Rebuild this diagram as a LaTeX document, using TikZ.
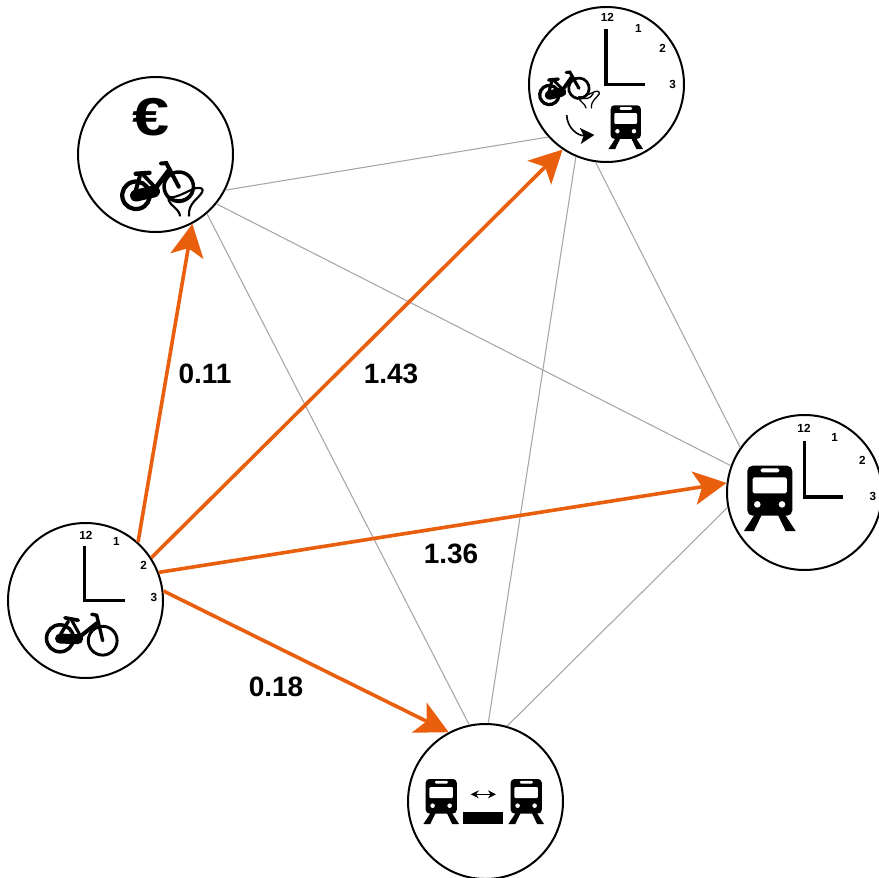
\documentclass[tikz,border=0pt]{standalone}
\usepackage{fontspec}
\setmainfont{Liberation Sans}
\usetikzlibrary{arrows.meta}
\definecolor{arrorange}{HTML}{EA5F0E}
\definecolor{linkgray}{HTML}{A6A6A6}
\tikzset{
  x=.75pt,y=-.75pt,
  stationcircle/.style={circle,draw=black,line width=1.5pt,minimum size=116.25pt,inner sep=0pt,fill=white},
  linkline/.style={draw=linkgray,line width=.8pt},
  chosen/.style={draw=arrorange,line width=2.7pt,-{Stealth[length=24.5pt,width=25pt,inset=6pt]}},
  oddslabel/.style={font=\bfseries\fontsize{21}{24}\selectfont,inner sep=0pt},
  hournum/.style={font=\bfseries\fontsize{8.8}{10}\selectfont,inner sep=0pt},
  hands/.style={draw=black,line width=2.4pt,miter limit=10},
}
\newcommand{\trainicon}[3]{%
  \begin{scope}[shift={(#1,#2)},scale=#3]
    \fill[black,rounded corners=4pt*#3] (0,0) rectangle (45,50);
    \fill[white,rounded corners=1.2pt*#3] (5.3,11.7) rectangle (39.5,27.7);
    \fill[white,rounded corners=1.2pt*#3] (13.3,2.7) rectangle (32,6.7);
    \fill[white] (10,38.7) circle (3.3);
    \fill[white] (34.7,38.7) circle (3.3);
    \fill[black] (8,48) -- (14.5,49) -- (6.5,65.5) -- (-3.5,65.5) -- cycle;
    \fill[black] (37,48) -- (30.5,49) -- (38.5,65.5) -- (48.5,65.5) -- cycle;
  \end{scope}}
% x, y, rotation, size, stroke weight
\newcommand{\bikeicon}[5]{%
  \begin{scope}[shift={(#1,#2)},rotate=#3,scale=#4,line cap=round]
    \draw[line width=2.3pt*#4*#5] (0,0) circle (13.5);
    \draw[line width=1.9pt*#4*#5] (42.7,2.4) circle (14.4);
    \draw[line width=2.2pt*#4*#5] (31.7,-24) -- (36.7,-23) -- (42.7,2.4);
    \draw[line width=2.4pt*#4*#5] (5,-20.5) -- (18.3,-18);
    \draw[line width=2pt*#4*#5] (11.7,-18) -- (21.7,0);
    \draw[line width=2.2pt*#4*#5] (8.3,-17) -- (0,-3);
    \draw[line width=2.6pt*#4*#5] (36.7,-15) -- (20,-1.7);
    \draw[line width=6.5pt*#4*#5] (0,.3) -- (18,.8);
  \end{scope}}
\newcommand{\handicon}[3]{%
  \begin{scope}[shift={(#1,#2)},scale=#3,line cap=round,line join=round]
    \draw[line width=1.6pt*#3] (0,0) .. controls (-1,-8) and (-12,-10) .. (-11.7,-18.7)
      .. controls (-4,-17) and (6,-24) .. (15,-27.4)
      .. controls (20,-28.5) and (24,-27.5) .. (22.3,-24)
      .. controls (19,-17) and (8,-13) .. (9,0);
    \draw[line width=1.6pt*#3] (-11.7,-18.7) .. controls (-3,-13) and (8,-15) .. (12,-24);
  \end{scope}}
\begin{document}
\begin{tikzpicture}
\useasboundingbox (0,0) rectangle (879,878);
\node[stationcircle] (A) at (155.5,154.5) {};
\node[stationcircle] (B) at (606.5,84.5) {};
\node[stationcircle] (C) at (804.5,492.5) {};
\node[stationcircle] (D) at (85.5,600.5) {};
\node[stationcircle] (E) at (485.5,801.5) {};
% grey links
\draw[linkline] (A.-27.4) -- (B.-138.6);
\draw[linkline] (A.-39.4) -- (C.160.4);
\draw[linkline] (A.-49.3) -- (E.102.9);
\draw[linkline] (B.-98.4) -- (C.145.4);
\draw[linkline] (B.-113.9) -- (E.88.9);
\draw[linkline] (C.-169) -- (E.74);
% orange arrows
\draw[chosen] (D.48.2) -- (A.-62.3);
\draw[chosen] (D.33) -- (B.-124.6);
\draw[chosen] (D.21.5) -- (C.173);
\draw[chosen] (D.7) -- (E.118.7);
% labels
\node[oddslabel] (l1) at (205,373.5) {0.11};
\node[oddslabel] (l2) at (391,373.5) {1.43};
\node[oddslabel] (l3) at (451,553.5) {1.36};
\node[oddslabel] (l4) at (276,686.5) {0.18};
% euro node
\node[inner sep=0pt,xscale=1.25,font=\bfseries\fontsize{40}{44}\selectfont] (euro) at (151,117) {€};
\bikeicon{136}{195.3}{14.6}{1.02}{1.35}
\handicon{180}{215.7}{1}
% clock D
\draw[hands] (84.3,546) -- (84.3,600.7) -- (125,600.7);
\node[hournum] (d12) at (86,535) {12};
\node[hournum] (d1) at (116.3,541.7) {1};
\node[hournum] (d2) at (143.7,565.7) {2};
\node[hournum] (d3) at (154,597.3) {3};
\bikeicon{60}{638.3}{0}{1}{1.15}
% clock B
\draw[hands] (606,29) -- (606,84.7) -- (645,84.7);
\node[hournum] (b12) at (607.3,17.7) {12};
\node[hournum] (b1) at (638.3,28.3) {1};
\node[hournum] (b2) at (662.7,48.3) {2};
\node[hournum] (b3) at (672.7,84) {3};
\bikeicon{549.3}{95}{16}{.71}{1.5}
\handicon{586}{108}{.6}
\draw[line width=1.2pt,-{Stealth[length=10.5pt,width=12pt,inset=2.5pt]}] (566.7,115) .. controls (567,128) and (578,136) .. (594.3,135);
\trainicon{610.7}{105.3}{.67}
% clock C
\draw[hands] (804.7,441) -- (804.7,497) -- (843.3,497);
\node[hournum] (c12) at (804,428.7) {12};
\node[hournum] (c1) at (834.7,437) {1};
\node[hournum] (c2) at (862.3,460.7) {2};
\node[hournum] (c3) at (873,496.7) {3};
\trainicon{747.3}{465.7}{1}
% transfer
\trainicon{425.7}{779}{.69}
\trainicon{510.7}{779}{.69}
\draw[line width=.9pt,{Stealth[length=6pt,width=6pt]}-{Stealth[length=6pt,width=6pt]}] (470.7,794.3) -- (496,794.3);
\fill[black] (463.3,812.3) rectangle (502.7,824);
\end{tikzpicture}
\end{document}
